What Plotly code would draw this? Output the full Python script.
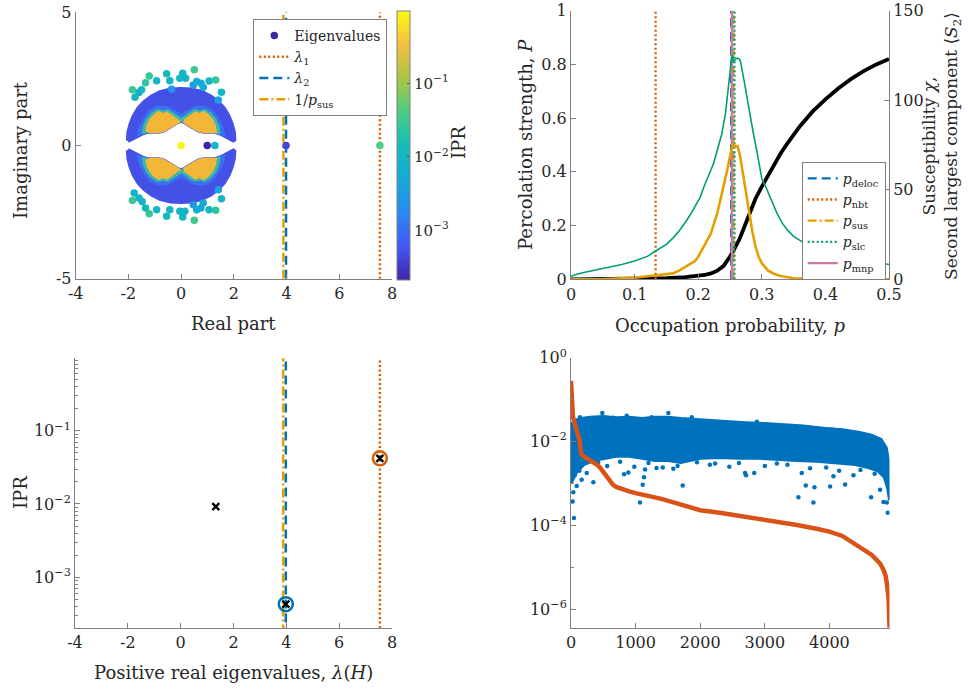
import plotly.graph_objects as go

# ---------------- data ----------------
# Top-left: eigenvalue spectrum (complex plane) coloured by log10(IPR)
EIG_RE = [-1.85, -1.75, -1.60, -1.50, -1.35, -1.21, -0.93, -0.55, -0.43, -0.05, 0.06, 0.17, 0.50, 0.46, 0.59, 0.75, 0.84, 1.06, 1.31, 1.53, 1.41, -0.36,
          -1.78, -1.85, -1.60, -1.48, -1.35, -1.21, -0.93, -0.55, -0.43, -0.05, 0.06, 0.14, 0.50, 0.46, 0.59, 0.75, 0.84, 1.06, 1.31, 1.53, 1.41,
          0.0, 1.28, 3.98, 7.54]
EIG_IM = [2.09, 1.81, 1.99, 2.09, 2.36, 2.61, 2.43, 2.69, 2.43, 2.52, 2.71, 2.52, 2.84, 2.27, 2.40, 2.34, 2.19, 2.42, 2.46, 2.00, 1.71, 2.11,
          -1.78, -2.06, -1.97, -2.10, -2.35, -2.56, -2.41, -2.66, -2.41, -2.47, -2.68, -2.47, -2.81, -2.22, -2.41, -2.35, -2.16, -2.41, -2.43, -2.00, -1.66,
          0.0, 0.0, 0.0, 0.0]
EIG_LOGIPR = [-1.5, -2.0, -2.1, -2.0, -1.6, -1.55, -2.0, -1.9, -2.0, -2.0, -2.0, -2.1, -1.5, -2.5, -2.2, -2.3, -2.2, -2.0, -1.6, -2.0, -2.4, -2.6,
              -2.0, -1.5, -2.1, -2.0, -1.9, -1.55, -2.0, -1.9, -2.0, -2.0, -2.0, -2.1, -1.5, -2.5, -2.2, -2.3, -2.2, -2.0, -1.6, -2.0, -2.4,
              -0.05, -2.03, -3.37, -1.38]
EIG_LOW_RE = [0.99]          # lowest-IPR real eigenvalue (legend marker)
EIG_LOW_IM = [0.0]

# dense bulk of the spectrum (upper half-plane outline; lower half is its conjugate)
OUTER_X = [-2.02, -2.0, -1.92, -1.8, -1.62, -1.4, -1.12, -0.8, -0.4, 0.0, 0.4, 0.8, 1.12, 1.4, 1.62, 1.8, 1.92, 2.0, 2.02]
OUTER_Y = [0.17, 0.5, 0.8, 1.1, 1.4, 1.63, 1.84, 2.0, 2.1, 2.12, 2.1, 2.0, 1.84, 1.63, 1.4, 1.1, 0.8, 0.5, 0.17]
INNER_X = [-2.02, -1.85, -1.65, -1.45, -1.25, -1.05, -0.85, -0.65, -0.45, -0.25, -0.1, 0.0, 0.1, 0.25, 0.45, 0.65, 0.85, 1.05, 1.25, 1.45, 1.65, 1.85, 2.02]
INNER_Y = [0.17, 0.27, 0.37, 0.46, 0.52, 0.52, 0.52, 0.57, 0.67, 0.8, 0.9, 0.92, 0.9, 0.8, 0.67, 0.57, 0.52, 0.52, 0.52, 0.46, 0.37, 0.27, 0.17]
BAND1_X = [-1.65, -1.58, -1.42, -1.2, -0.9, -0.55, -0.25, 0.0, 0.25, 0.55, 0.9, 1.2, 1.42, 1.58, 1.65]
BAND1_Y = [0.37, 0.66, 0.98, 1.3, 1.45, 1.45, 1.3, 1.16, 1.3, 1.45, 1.45, 1.3, 0.98, 0.66, 0.37]
BAND2_X = [-1.45, -1.42, -1.3, -1.12, -0.9, -0.7, -0.5, -0.3, -0.12, 0.0, 0.12, 0.3, 0.5, 0.7, 0.9, 1.12, 1.3, 1.42, 1.45]
BAND2_Y = [0.46, 0.7, 0.98, 1.2, 1.33, 1.28, 1.32, 1.2, 1.06, 1.0, 1.06, 1.2, 1.32, 1.28, 1.33, 1.2, 0.98, 0.7, 0.46]
LOBE_L_X = [-1.3, -1.26, -1.15, -1.0, -0.85, -0.7, -0.55, -0.4, -0.25, -0.12]
LOBE_L_Y = [0.52, 0.74, 0.97, 1.13, 1.24, 1.16, 1.22, 1.12, 1.03, 0.93]
LOBE_R_X = [0.12, 0.25, 0.4, 0.55, 0.7, 0.85, 1.0, 1.15, 1.26, 1.3]
LOBE_R_Y = [0.93, 1.03, 1.12, 1.22, 1.16, 1.24, 1.13, 0.97, 0.74, 0.52]

LAMBDA1 = 7.54
LAMBDA2 = 3.98
INV_PSUS = 3.88
IPR_LOG_RANGE = [-3.67, -0.01]

# Top-right: percolation
P_BLACK = [0, 0.1, 0.15, 0.18, 0.2, 0.21, 0.22, 0.23, 0.24, 0.245, 0.25, 0.255, 0.26, 0.265, 0.27, 0.275, 0.28, 0.29, 0.3, 0.306, 0.31, 0.32, 0.33, 0.34, 0.35, 0.36, 0.38, 0.4, 0.42, 0.44, 0.46, 0.48, 0.5]
STRENGTH = [0, 0.001, 0.004, 0.008, 0.012, 0.016, 0.022, 0.032, 0.05, 0.065, 0.085, 0.105, 0.125, 0.15, 0.18, 0.21, 0.245, 0.3, 0.345, 0.37, 0.39, 0.43, 0.47, 0.505, 0.54, 0.57, 0.625, 0.67, 0.71, 0.745, 0.775, 0.8, 0.82]
P_GREEN = [0, 0.005, 0.02, 0.05, 0.08, 0.1, 0.12, 0.133, 0.15, 0.161, 0.17, 0.182, 0.19, 0.203, 0.21, 0.224, 0.23, 0.237, 0.243, 0.248, 0.253, 0.2555, 0.259, 0.262, 0.265, 0.267, 0.27, 0.274, 0.278, 0.282, 0.287, 0.292, 0.3, 0.306, 0.316, 0.324, 0.332, 0.34, 0.35, 0.363, 0.38, 0.4, 0.42, 0.45, 0.48, 0.5]
SUSC_GREEN = [1.5, 2.4, 3.8, 6.0, 8.3, 10.2, 12.8, 15.8, 19.5, 23.3, 27.0, 33.0, 37.5, 45.8, 52.5, 64.5, 72.0, 81.0, 93.0, 108.0, 125.3, 121.5, 123.0, 123.5, 123.0, 120.8, 115.5, 107.3, 99.0, 90.0, 81.0, 72.0, 56.3, 51.8, 43.5, 36.8, 31.5, 27.6, 24.0, 21.0, 17.3, 15.0, 13.2, 11.3, 9.3, 8.3]
P_ORANGE = [0, 0.05, 0.1, 0.12, 0.133, 0.145, 0.16, 0.17, 0.18, 0.19, 0.195, 0.2, 0.21, 0.22, 0.23, 0.24, 0.245, 0.25, 0.255, 0.258, 0.262, 0.266, 0.27, 0.275, 0.28, 0.285, 0.29, 0.295, 0.3, 0.31, 0.32, 0.33, 0.35, 0.38, 0.4, 0.45, 0.5]
S2_ORANGE = [0, 0.15, 0.9, 1.65, 2.25, 2.7, 3.3, 4.8, 7.05, 9.0, 10.2, 12.6, 18.75, 25.65, 36.9, 51.75, 60.0, 68.55, 75.9, 74.1, 74.4, 68.55, 59.25, 48.0, 36.9, 27.0, 18.3, 12.75, 9.0, 4.8, 3.0, 1.8, 0.6, 0.22, 0.15, 0.05, 0]
P_DELOC = 0.2518
P_NBT = 0.133
P_SUS = 0.2555
P_SLC = 0.257
P_MNP = 0.253

# Bottom-left: IPR of positive real eigenvalues
POS_EIG = [1.33, 1.01, 3.98, 7.54]
POS_IPR = [0.0092, 2.0e-4, 4.28e-4, 0.042]
LAM2_PT = ([3.98], [4.28e-4])
LAM1_PT = ([7.54], [0.042])

# Bottom-right: index plots
BAND_UP_X = [0, 60, 150, 300, 500, 700, 900, 1100, 1300, 1500, 1700, 1900, 2100, 2400, 2700, 3000, 3300, 3600, 3900, 4200, 4450, 4650, 4800, 4880, 4920]
BAND_UP_Y = [0.0251, 0.0316, 0.0355, 0.038, 0.0398, 0.0372, 0.038, 0.0355, 0.038, 0.038, 0.0355, 0.0339, 0.0316, 0.0302, 0.0282, 0.0269, 0.0251, 0.0234, 0.0209, 0.0191, 0.0166, 0.0141, 0.0112, 0.0071, 0.00316]
BAND_LO_X = [4930, 4900, 4850, 4750, 4600, 4400, 4200, 4000, 3800, 3500, 3200, 2900, 2600, 2300, 2000, 1700, 1500, 1300, 1100, 900, 700, 500, 350, 200, 100, 30, 0]
BAND_LO_Y = [0.0004, 0.00079, 0.00141, 0.002, 0.0024, 0.00282, 0.003, 0.00316, 0.00339, 0.00355, 0.0038, 0.004, 0.004, 0.00417, 0.004, 0.00316, 0.00355, 0.00355, 0.004, 0.00447, 0.00447, 0.004, 0.00355, 0.00282, 0.002, 0.00126, 0.001]
OUT_X = [46, 26, 36, 1068, 1729, 821, 888, 1146, 1130, 1110, 1584, 2694, 2836, 2710, 3520, 3752, 3634, 3768, 4011, 4243, 4645, 4784, 4836, 4903, 4888, 346, 243, 165, 88, 3572, 4062, 4372, 1324, 2231, 3186, 12, 60, 130,
         485, 1507, 1869, 862, 1249, 2877, 2524, 4036, 139, 300, 650,
         420, 560, 760, 980, 1200, 1420, 1650, 1950, 2150, 2450, 2600, 3000, 3350, 3700, 3950, 4150, 4480, 4700]
OUT_Y = [1.5e-4, 3.7e-4, 6.2e-4, 3.5e-4, 8.9e-4, 1.66e-3, 1.82e-3, 2.14e-3, 1.41e-3, 9.3e-4, 2.24e-3, 1.78e-3, 1.78e-3, 1.58e-3, 4.7e-4, 3.5e-4, 8.9e-4, 8.1e-4, 8.5e-4, 9.5e-4, 4.7e-4, 7.1e-4, 3.6e-4, 2.0e-4, 3.5e-4, 1.07e-3, 1.78e-3, 1.23e-3, 8.7e-4, 1.78e-3, 1.48e-3, 1.58e-3, 2.34e-3, 3.0e-3, 3.0e-3, 2.2e-3, 1.6e-3, 2.0e-3,
         0.048, 0.048, 0.038, 0.041, 0.038, 0.0295, 0.0275, 0.0195, 0.038, 0.036, 0.037,
         3.2e-3, 2.6e-3, 3.3e-3, 2.5e-3, 3.1e-3, 2.4e-3, 2.6e-3, 3.2e-3, 2.8e-3, 2.5e-3, 3.1e-3, 2.6e-3, 2.8e-3, 2.3e-3, 2.4e-3, 2.0e-3, 2.1e-3, 1.7e-3]
ORANGE_X = [0, 5, 10, 20, 30, 45, 60, 80, 100, 120, 135, 145, 160, 200, 250, 300, 350, 400, 450, 500, 550, 600, 650, 700, 800, 900, 1000, 1100, 1200, 1400, 1600, 1800, 2000, 2300, 2600, 2900, 3200, 3500, 3800, 4000, 4200, 4400, 4550, 4650, 4730, 4790, 4840, 4870, 4890, 4905, 4915, 4922, 4927, 4930]
ORANGE_Y = [0.282, 0.178, 0.112, 0.0631, 0.0398, 0.0316, 0.0269, 0.0224, 0.0178, 0.0141, 0.0105, 0.00708, 0.00501, 0.00437, 0.00398, 0.00355, 0.00316, 0.00282, 0.0024, 0.00191, 0.00148, 0.00112, 9.3e-4, 8.3e-4, 7.2e-4, 6.5e-4, 5.9e-4, 5.5e-4, 5.0e-4, 4.3e-4, 3.5e-4, 2.8e-4, 2.3e-4, 2.0e-4, 1.7e-4, 1.45e-4, 1.23e-4, 1.02e-4, 8.3e-5, 7.1e-5, 5.6e-5, 3.5e-5, 2.5e-5, 2.0e-5, 1.5e-5, 1.2e-5, 8.5e-6, 6.3e-6, 4.0e-6, 2.8e-6, 1.8e-6, 1.0e-6, 5.6e-7, 3.6e-7]

# ---------------- styles ----------------
W, H = 968, 689
PARULA = [[0.0, '#3E26A8'], [0.125, '#4557F6'], [0.25, '#2889F5'], [0.375, '#15A9D7'], [0.5, '#13BDB8'],
          [0.625, '#4CCC84'], [0.75, '#AAC644'], [0.875, '#F7BE41'], [1.0, '#F9FB0E']]
C_BLUE, C_VERM, C_ORNG, C_GRN, C_PINK = '#0072B2', '#D55E00', '#E69F00', '#009E73', '#CC79A7'
DOT, DASH, DASHDOT = '2px,2.5px', '9px,5px', '9px,3px,2px,3px'
FONT = 'DejaVu Serif'
TXT = '#262626'
AXC = '#808080'


def px_x(p):
    return p / W


def px_y(p):
    return 1 - p / H


fig = go.Figure()

# ---- top-left bulk spectrum (filled outlines) ----
def poly(xs, ys, color, sign, lw=4):
    fig.add_trace(go.Scatter(x=xs, y=[sign * v for v in ys], fill='toself', fillcolor=color, mode='lines',
                             line=dict(color=color, width=lw), hoverinfo='skip', showlegend=False,
                             xaxis='x', yaxis='y'))

for s in (1, -1):
    poly(OUTER_X + INNER_X[::-1], OUTER_Y + INNER_Y[::-1], '#4450E6', s)
    poly(BAND1_X + INNER_X[2:21][::-1], BAND1_Y + INNER_Y[2:21][::-1], '#3872F0', s, 2)
    poly(BAND2_X + INNER_X[3:20][::-1], BAND2_Y + INNER_Y[3:20][::-1], '#3DB8A8', s, 2)
    poly(LOBE_L_X + INNER_X[4:11][::-1], LOBE_L_Y + INNER_Y[4:11][::-1], '#F2B638', s, 3)
    poly(LOBE_R_X + INNER_X[12:19][::-1], LOBE_R_Y + INNER_Y[12:19][::-1], '#F2B638', s, 3)

# vertical lines top-left
fig.add_trace(go.Scatter(x=[LAMBDA1, LAMBDA1], y=[-5, 5], mode='lines', name='<i>λ</i><sub>1</sub>',
                         line=dict(color=C_VERM, width=2.5, dash=DOT), legend='legend', legendrank=2,
                         xaxis='x', yaxis='y'))
fig.add_trace(go.Scatter(x=[INV_PSUS, INV_PSUS], y=[-5, 5], mode='lines', name='1/<i>p</i><sub>sus</sub>',
                         line=dict(color=C_ORNG, width=2.5, dash=DASHDOT), legend='legend', legendrank=4,
                         xaxis='x', yaxis='y'))
fig.add_trace(go.Scatter(x=[LAMBDA2, LAMBDA2], y=[-5, 5], mode='lines', name='<i>λ</i><sub>2</sub>',
                         line=dict(color=C_BLUE, width=2.5, dash=DASH), legend='legend', legendrank=3,
                         xaxis='x', yaxis='y'))

fig.add_trace(go.Scatter(
    x=EIG_RE, y=EIG_IM, mode='markers', showlegend=False, xaxis='x', yaxis='y',
    marker=dict(size=7.5, color=EIG_LOGIPR, colorscale=PARULA, cmin=IPR_LOG_RANGE[0], cmax=IPR_LOG_RANGE[1],
                line=dict(width=0),
                colorbar=dict(x=px_x(397.3), xanchor='left', xpad=0, y=px_y(10.7), yanchor='top', ypad=0,
                              len=(279.3 - 10.7) / H, lenmode='fraction', thickness=13.4, thicknessmode='pixels',
                              outlinewidth=1, outlinecolor=AXC, ticks='inside', ticklen=3, tickcolor='#555',
                              tickvals=[-3, -2, -1],
                              ticktext=['10<sup>−3</sup>', '10<sup>−2</sup>', '10<sup>−1</sup>'],
                              tickfont=dict(family=FONT, size=15, color=TXT)))))
fig.add_trace(go.Scatter(x=EIG_LOW_RE, y=EIG_LOW_IM, mode='markers', name='Eigenvalues', legend='legend',
                         legendrank=1, marker=dict(size=7.5, color='#3E26A8'), xaxis='x', yaxis='y'))

# ---- top-right ----
fig.add_trace(go.Scatter(x=P_GREEN, y=SUSC_GREEN, mode='lines', line=dict(color=C_GRN, width=1.6),
                         showlegend=False, xaxis='x2', yaxis='y3'))
fig.add_trace(go.Scatter(x=P_ORANGE, y=S2_ORANGE, mode='lines', line=dict(color=C_ORNG, width=2.6),
                         showlegend=False, xaxis='x2', yaxis='y3'))
fig.add_trace(go.Scatter(x=P_BLACK, y=STRENGTH, mode='lines', line=dict(color='black', width=3.8),
                         showlegend=False, xaxis='x2', yaxis='y2'))
for val, nm, col, dsh, rk in [(P_DELOC, 'deloc', C_BLUE, DASH, 1), (P_NBT, 'nbt', C_VERM, DOT, 2),
                              (P_SUS, 'sus', C_ORNG, DASHDOT, 3), (P_SLC, 'slc', C_GRN, DOT, 4),
                              (P_MNP, 'mnp', C_PINK, 'solid', 5)]:
    fig.add_trace(go.Scatter(x=[val, val], y=[0, 1], mode='lines', name='<i>p</i><sub>%s</sub>' % nm,
                             line=dict(color=col, width=2.3, dash=dsh), legend='legend2', legendrank=rk,
                             xaxis='x2', yaxis='y2'))

# ---- bottom-left ----
for xv, col, dsh in [(LAMBDA1, C_VERM, DOT), (INV_PSUS, C_ORNG, DASHDOT), (LAMBDA2, C_BLUE, DASH)]:
    fig.add_trace(go.Scatter(x=[xv, xv], y=[1e-4, 1.0], mode='lines', showlegend=False,
                             line=dict(color=col, width=2.5, dash=dsh), xaxis='x3', yaxis='y4'))
fig.add_trace(go.Scatter(x=LAM2_PT[0], y=LAM2_PT[1], mode='markers', showlegend=False, xaxis='x3', yaxis='y4',
                         marker=dict(symbol='circle-open', size=14, color=C_BLUE, line=dict(color=C_BLUE, width=2.5))))
fig.add_trace(go.Scatter(x=LAM1_PT[0], y=LAM1_PT[1], mode='markers', showlegend=False, xaxis='x3', yaxis='y4',
                         marker=dict(symbol='circle-open', size=14, color=C_VERM, line=dict(color=C_VERM, width=2.5))))
fig.add_trace(go.Scatter(x=POS_EIG, y=POS_IPR, mode='markers', showlegend=False, xaxis='x3', yaxis='y4',
                         cliponaxis=False,
                         marker=dict(symbol='x-thin', size=7, color='black', line=dict(color='black', width=2.3))))

# ---- bottom-right ----
fig.add_trace(go.Scatter(x=BAND_UP_X + BAND_LO_X, y=BAND_UP_Y + BAND_LO_Y, fill='toself', fillcolor='#0072BD',
                         mode='lines', line=dict(color='#0072BD', width=3), showlegend=False, hoverinfo='skip',
                         xaxis='x4', yaxis='y5'))
fig.add_trace(go.Scatter(x=OUT_X, y=OUT_Y, mode='markers', showlegend=False, xaxis='x4', yaxis='y5',
                         marker=dict(size=4.5, color='#0072BD')))
fig.add_trace(go.Scatter(x=ORANGE_X, y=ORANGE_Y, mode='lines', showlegend=False, xaxis='x4', yaxis='y5',
                         line=dict(color='#D95319', width=4.5)))

# ---------------- layout ----------------
def ax(**kw):
    d = dict(showline=True, linecolor=AXC, linewidth=1, ticks='inside', ticklen=5, tickcolor=AXC,
             showgrid=False, zeroline=False, tickfont=dict(family=FONT, size=16, color=TXT), mirror=False)
    d.update(kw)
    return d

lin_ticks = dict(tickmode='array', tickvals=[-4, -2, 0, 2, 4, 6, 8], ticktext=['-4', '-2', '0', '2', '4', '6', '8'])

fig.update_layout(
    width=W, height=H, margin=dict(l=0, r=0, t=0, b=0, autoexpand=False),
    paper_bgcolor='white', plot_bgcolor='rgba(0,0,0,0)',
    font=dict(family=FONT, size=16, color=TXT),
    xaxis=ax(domain=[px_x(75.7), px_x(392)], range=[-4, 8], anchor='y', **lin_ticks),
    yaxis=ax(domain=[px_y(278.7), px_y(12.3)], range=[-5, 5], anchor='x', tickmode='array',
             tickvals=[-5, 0, 5], ticktext=['-5', '0', '5']),
    xaxis2=ax(domain=[px_x(571), px_x(889)], range=[0, 0.5], anchor='y2', tickmode='array',
              tickvals=[0, 0.1, 0.2, 0.3, 0.4, 0.5], ticktext=['0', '0.1', '0.2', '0.3', '0.4', '0.5']),
    yaxis2=ax(domain=[px_y(279.3), px_y(10.7)], range=[0, 1], anchor='x2', tickmode='array',
              tickvals=[0, 0.2, 0.4, 0.6, 0.8, 1], ticktext=['0', '0.2', '0.4', '0.6', '0.8', '1']),
    yaxis3=ax(domain=[px_y(279.3), px_y(10.7)], range=[0, 150], anchor='x2', overlaying='y2', side='right',
              tickmode='array', tickvals=[0, 50, 100, 150], ticktext=['0', '50', '100', '150']),
    xaxis3=ax(domain=[px_x(75), px_x(392)], range=[-4, 8], anchor='y4', **lin_ticks),
    yaxis4=ax(domain=[px_y(627.7), px_y(358.3)], type='log', range=[-3.69, -0.01], anchor='x3',
              tickmode='array', tickvals=[1e-3, 1e-2, 1e-1],
              ticktext=['10<sup>−3</sup>', '10<sup>−2</sup>', '10<sup>−1</sup>'],
              minor=dict(ticks='inside', ticklen=2.5, tickcolor=AXC, dtick='D1', showgrid=False)),
    xaxis4=ax(domain=[px_x(571), px_x(889.5)], range=[0, 4930], anchor='y5', tickmode='array',
              tickvals=[0, 1000, 2000, 3000, 4000], ticktext=['0', '1000', '2000', '3000', '4000']),
    yaxis5=ax(domain=[px_y(627.7), px_y(357.7)], type='log', range=[-6.44, 0], anchor='x4',
              tickmode='array', tickvals=[1e-6, 1e-4, 1e-2, 1],
              ticktext=['10<sup>−6</sup>', '10<sup>−4</sup>', '10<sup>−2</sup>', '10<sup>0</sup>'],
              minor=dict(ticks='inside', ticklen=2.5, tickcolor=AXC, tickvals=[1e-5, 1e-3, 1e-1], showgrid=False)),
    legend=dict(x=px_x(253.3), y=px_y(19), xanchor='left', yanchor='top', bgcolor='white',
                bordercolor=AXC, borderwidth=1, font=dict(family=FONT, size=14, color=TXT),
                itemwidth=30, tracegroupgap=0),
    legend2=dict(x=px_x(801.7), y=px_y(161.7), xanchor='left', yanchor='top', bgcolor='white',
                 bordercolor=AXC, borderwidth=1, font=dict(family=FONT, size=14, color=TXT),
                 itemwidth=30, tracegroupgap=0),
)

ANN = [
    ('Real part', 233.8, 323, 0, 18),
    ('Imaginary part', 21, 150, -90, 18),
    ('IPR', 459, 143, -90, 18),
    ('Occupation probability, <i>p</i>', 730, 325, 0, 18),
    ('Percolation strength, <i>P</i>', 525, 145, -90, 18),
    ('Susceptibility <i>χ</i>,<br>Second largest component ⟨<i>S</i><sub>2</sub>⟩', 942, 146, -90, 17),
    ('Positive real eigenvalues, <i>λ</i>(<i>H</i>)', 233, 672, 0, 18),
    ('IPR', 20, 493, -90, 18),
]
for txt, xp, yp, ang, fs in ANN:
    fig.add_annotation(text=txt, x=px_x(xp), y=px_y(yp), xref='paper', yref='paper', showarrow=False,
                       textangle=ang, xanchor='center', yanchor='middle',
                       font=dict(family=FONT, size=fs, color=TXT))

fig.write_html("out.html", config={'displayModeBar': False},
               post_script="document.body.style.margin='0';document.body.style.overflow='hidden';")
